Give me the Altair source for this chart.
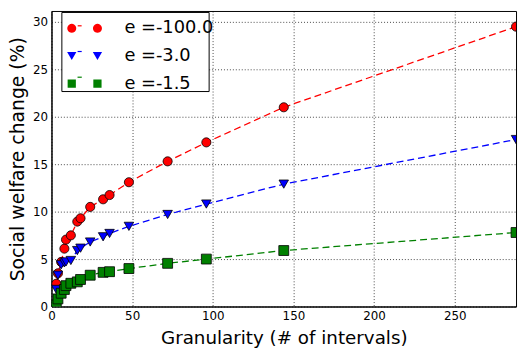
import math
import altair as alt
import pandas as pd

x_vals = [3, 4, 6, 8, 9, 12, 16, 18, 24, 32, 36, 48, 72, 96, 144, 288]
red_vals = [2.4, 3.5, 4.7, 6.1, 7.05, 7.5, 8.95, 9.3, 10.5, 11.3, 11.75, 13.1, 15.3, 17.3, 21.0, 29.5]
blue_vals = [1.8, 3.3, 4.4, 4.6, 4.7, 4.85, 5.9, 6.15, 6.8, 7.35, 7.7, 8.45, 9.7, 10.8, 12.9, 17.6]
green_vals = [0.15, 0.8, 1.4, 1.8, 2.2, 2.45, 2.6, 2.85, 3.3, 3.6, 3.67, 4.0, 4.55, 5.0, 5.9, 7.8]

labels = ["e =-100.0", "e =-3.0", "e =-1.5"]
colors = ["#ff0000", "#0000ff", "#008000"]
shapes = ["circle", "triangle-down", "square"]
marker_sizes = [85, 100, 80]
x_ticks = [0, 50, 100, 150, 200, 250]
y_ticks = [0, 5, 10, 15, 20, 25, 30]


# legend sample glyphs (marker - marker pairs), in symbol units (13 px per unit)
def poly_circle(cx, r, n=20):
    pts = [(cx + r * math.cos(2 * math.pi * k / n), r * math.sin(2 * math.pi * k / n))
           for k in range(n)]
    return "M " + " L ".join(f"{a:.3f},{b:.3f}" for a, b in pts) + " Z"


EXT = "M -1.5,0 L -1.5,0 M 1.5,0 L 1.5,0 "  # invisible extent anchors
legend_paths = [
    EXT + poly_circle(-1.0, 0.35) + " " + poly_circle(1.0, 0.35),
    EXT + "M -1.36,-0.31 L -0.64,-0.31 L -1.0,0.31 Z M 0.64,-0.31 L 1.36,-0.31 L 1.0,0.31 Z",
    EXT + "M -1.32,-0.32 L -0.68,-0.32 L -0.68,0.32 L -1.32,0.32 Z "
    "M 0.68,-0.32 L 1.32,-0.32 L 1.32,0.32 L 0.68,0.32 Z",
]
legend_line_path = EXT + "M -0.43,0 L 0.43,0"

rows = []
for lab, vals in zip(labels, [red_vals, blue_vals, green_vals]):
    for xv, yv in zip(x_vals, vals):
        rows.append({"x": xv, "y": yv, "series": lab, "series_b": lab})
df = pd.DataFrame(rows)

FONT = "DejaVu Sans"
LX, LY = 10, 1
common_leg = dict(
    title=None, orient="none", legendX=LX,
    symbolSize=676, symbolStrokeWidth=1.2, labelFontSize=18, labelFont=FONT,
    labelOffset=26.3, symbolOffset=4.5, padding=5,
)

xenc = alt.X("x:Q", scale=alt.Scale(domain=[0, 288], nice=False, zero=False),
             axis=alt.Axis(values=x_ticks, title="Granularity (# of intervals)",
                           titleFontSize=18.5, titlePadding=7, labelFlush=False))
yenc = alt.Y("y:Q", scale=alt.Scale(domain=[0, 31.15], nice=False),
             axis=alt.Axis(values=y_ticks, title="Social welfare change (%)",
                           titleFontSize=19, titlePadding=5, labelFlush=False))

base = alt.Chart(df)

lines = base.mark_line(strokeDash=[7, 4], strokeWidth=1.3, clip=True).encode(
    x=xenc, y=yenc,
    stroke=alt.Stroke("series:N", scale=alt.Scale(domain=labels, range=colors),
                      legend=alt.Legend(symbolType=legend_line_path, legendY=LY, rowPadding=8,
                                        labelOpacity=0, fillColor="white",
                                        strokeColor="black", **common_leg)),
)

points = base.mark_point(filled=True, stroke="black", strokeWidth=0.8,
                         opacity=1, clip=True).encode(
    x=xenc, y=yenc,
    color=alt.Color("series:N", scale=alt.Scale(domain=labels, range=colors), legend=None),
    shape=alt.Shape("series:N", scale=alt.Scale(domain=labels, range=shapes), legend=None),
    size=alt.Size("series:N", scale=alt.Scale(domain=labels, range=marker_sizes), legend=None),
)

leg_b = alt.Legend(symbolStrokeColor="black", symbolOpacity=1, labelColor="black",
                   legendY=LY - 2.5, rowPadding=5, **common_leg)
dummy = base.mark_point(filled=True, stroke="black", opacity=0, size=1, clip=True).encode(
    x=xenc, y=yenc,
    fill=alt.Fill("series_b:N", scale=alt.Scale(domain=labels, range=colors), legend=leg_b),
    shape=alt.Shape("series_b:N", scale=alt.Scale(domain=labels, range=legend_paths),
                    legend=leg_b),
)

chart = alt.layer(lines, points, dummy).resolve_scale(
    shape="independent", fill="independent"
).properties(
    width=470, height=299,
    padding={"left": 44, "top": 1, "right": 3, "bottom": 44},
    autosize="none",
).configure_axis(
    labelFont=FONT, labelFontSize=12, labelColor="black", labelPadding=4,
    titleFont=FONT, titleFontWeight="normal", titleColor="black",
    domainColor="black", domainWidth=1,
    gridColor="black", gridDash=[1, 2], gridWidth=0.8, gridOpacity=0.9,
    ticks=False,
).configure_view(stroke="black", strokeWidth=1)

chart.save("out.html", embed_options={"renderer": "svg", "actions": False})
